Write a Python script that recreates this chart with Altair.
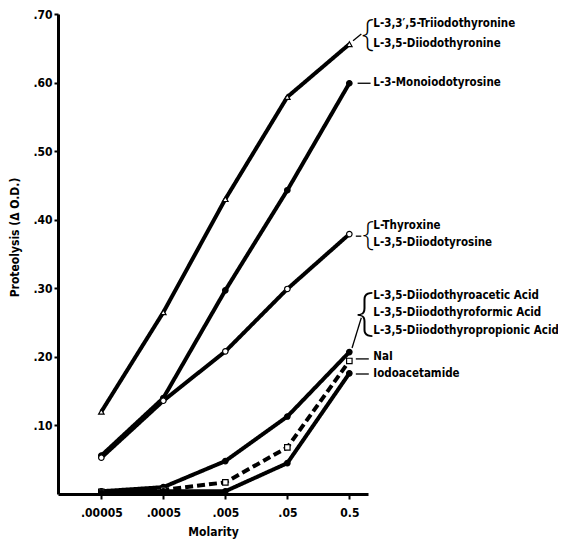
import altair as alt
import pandas as pd

# ---- data ----
molarity = [0.00005, 0.0005, 0.005, 0.05, 0.5]
molarity_labels = [".00005", ".0005", ".005", ".05", "0.5"]

series_names = ["Triiodothyronine", "Monoiodotyrosine", "Thyroxine", "Acids", "NaI", "Iodoacetamide"]
series_values = {
    "Triiodothyronine": [0.120, 0.265, 0.430, 0.579, 0.656],
    "Monoiodotyrosine": [0.056, 0.140, 0.297, 0.443, 0.599],
    "Thyroxine":        [0.053, 0.136, 0.208, 0.299, 0.379],
    "Acids":            [0.004, 0.010, 0.048, 0.113, 0.207],
    "NaI":              [0.003, 0.006, 0.017, 0.068, 0.194],
    "Iodoacetamide":    [0.002, 0.004, 0.004, 0.045, 0.176],
}
series_shape = ["triangle-up", "circle", "circle", "circle", "square", "circle"]
series_fill = ["open", "filled", "open", "filled", "open", "filled"]
series_dash = ["solid", "solid", "solid", "solid", "dashed", "solid"]

y_ticks = [0.10, 0.20, 0.30, 0.40, 0.50, 0.60, 0.70]

label_texts = [
    "L-3,3\u2032,5-Triiodothyronine", "L-3,5-Diiodothyronine",
    "L-3-Monoiodotyrosine",
    "L-Thyroxine", "L-3,5-Diiodotyrosine",
    "L-3,5-Diiodothyroacetic Acid", "L-3,5-Diiodothyroformic Acid",
    "L-3,5-Diiodothyropropionic Acid",
    "NaI", "Iodoacetamide",
]
label_y = [0.685, 0.656, 0.599, 0.391, 0.366, 0.289, 0.264, 0.238, 0.200, 0.175]

brace_y = [0.671, 0.378, 0.264]
brace_size = [36, 34, 52]

leader_x = [0.574, 0.68, 0.636, 0.553, 0.636, 0.636]
leader_x2 = [0.78, 1.10, 0.78, 0.78, 1.03, 1.03]
leader_y = [0.661, 0.599, 0.376, 0.213, 0.197, 0.175]
leader_y2 = [0.671, 0.599, 0.376, 0.257, 0.197, 0.175]

# ---- tables ----
rows = []
for i, name in enumerate(series_names):
    for m, v in zip(molarity, series_values[name]):
        rows.append({"series": name, "molarity": m, "value": v,
                     "shape": series_shape[i], "fill": series_fill[i],
                     "dash": series_dash[i], "order": i})
df = pd.DataFrame(rows)
labels_df = pd.DataFrame({"text": label_texts, "y": label_y, "x": [0.5] * len(label_texts)})
braces_df = pd.DataFrame({"text": ["{"] * len(brace_y), "y": brace_y,
                          "size": brace_size, "x": [0.5] * len(brace_y)})
leaders_df = pd.DataFrame({"x": leader_x, "x2": leader_x2, "y": leader_y, "y2": leader_y2})

FONT = "DejaVu Sans Condensed"

label_expr = " : ".join(
    f"datum.value < {m * 1.5} ? '{lab}'" for m, lab in zip(molarity[:-1], molarity_labels[:-1])
) + f" : '{molarity_labels[-1]}'"

xscale = alt.Scale(type="log", domain=[0.0000186, 0.78])
yscale = alt.Scale(domain=[0, 0.70], nice=False, zero=True)

x_enc = alt.X("molarity:Q", scale=xscale,
              axis=alt.Axis(values=molarity, labelExpr=label_expr, title="Molarity",
                            grid=False, domainWidth=3, tickWidth=2, tickSize=5,
                            labelPadding=8, labelFont=FONT, labelFontWeight="bold",
                            labelFontSize=12, titleFont=FONT, titleFontWeight="bold",
                            titleFontSize=12, titlePadding=8, labelColor="black",
                            titleColor="black", domainColor="black", tickColor="black"))
y_enc = alt.Y("value:Q", scale=yscale,
              axis=alt.Axis(values=y_ticks, labelExpr="replace(format(datum.value, '.2f'), '0.', '.')",
                            title="Proteolysis (\u0394 O.D.)", grid=False, domainWidth=3,
                            tickWidth=2, tickSize=4, labelPadding=2, labelFont=FONT,
                            labelFontWeight="bold", labelFontSize=12, titleFont=FONT,
                            titleFontWeight="bold", titleFontSize=12, titleX=-44, titleY=223,
                            titleBaseline="middle", titleAngle=270,
                            labelColor="black", titleColor="black", domainColor="black",
                            tickColor="black"))

lines = alt.Chart(df).mark_line(color="black", strokeWidth=4, strokeCap="butt").encode(
    x=x_enc, y=y_enc, detail="series:N",
    strokeDash=alt.StrokeDash("dash:N", scale=alt.Scale(domain=["solid", "dashed"],
                                                        range=[[1, 0], [8, 4]]), legend=None),
)

points = alt.Chart(df).mark_point(stroke="black", strokeWidth=1.2, opacity=1, size=30).encode(
    x="molarity:Q", y="value:Q",
    shape=alt.Shape("shape:N", scale=alt.Scale(domain=["triangle-up", "circle", "square"],
                                               range=["triangle-up", "circle", "square"]), legend=None),
    fill=alt.Fill("fill:N", scale=alt.Scale(domain=["open", "filled"], range=["white", "black"]),
                  legend=None),
)

leaders = alt.Chart(leaders_df).mark_rule(color="black", strokeWidth=1.3).encode(
    x="x:Q", x2="x2:Q", y="y:Q", y2="y2:Q")

texts = alt.Chart(labels_df).mark_text(align="left", baseline="middle", dx=24, font=FONT,
                                       fontWeight="bold", fontSize=11.5, color="black").encode(
    x="x:Q", y="y:Q", text="text:N")

braces = alt.Chart(braces_df).mark_text(align="right", baseline="middle", dx=25, font="Noto Sans",
                                        fontWeight=200, color="black").encode(
    x="x:Q", y="y:Q", text="text:N", size=alt.Size("size:Q", scale=None, legend=None))

chart = alt.layer(lines, points, leaders, braces, texts).properties(
    width=310, height=480,
    autosize=alt.AutoSizeParams(type="none"),
    padding={"left": 50, "top": 6, "right": 190, "bottom": 46},
).configure(background="white", view=alt.ViewConfig(stroke=None))

chart.save("out.html", embed_options={"renderer": "svg", "actions": False})
